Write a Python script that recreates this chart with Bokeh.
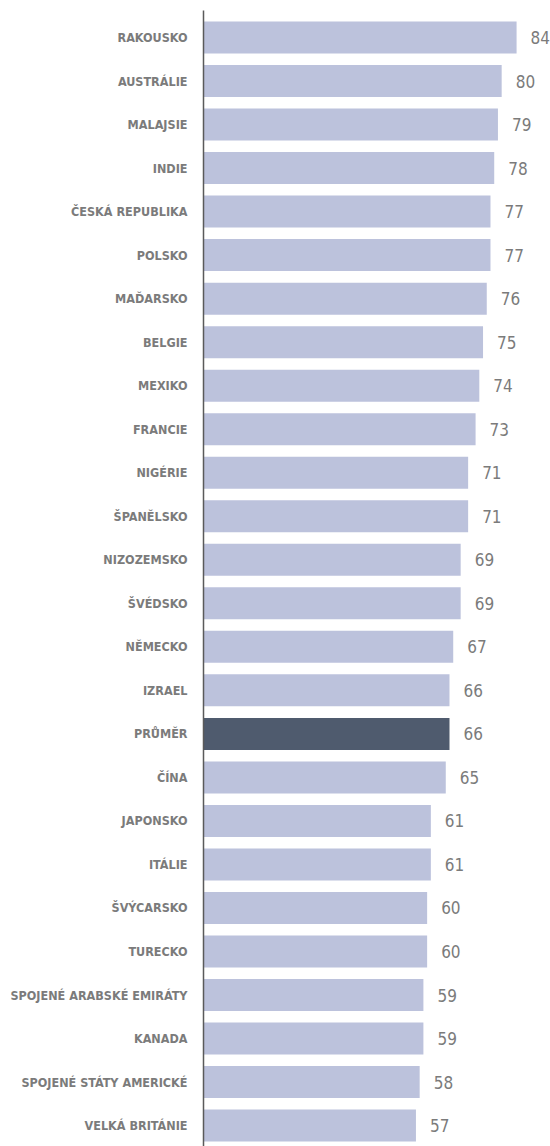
from bokeh.plotting import figure
from bokeh.models import ColumnDataSource, Range1d, FixedTicker
from bokeh.core.properties import value
from bokeh.embed import file_html
from bokeh.resources import INLINE

countries = ["RAKOUSKO", "AUSTRÁLIE", "MALAJSIE", "INDIE", "ČESKÁ REPUBLIKA", "POLSKO",
             "MAĎARSKO", "BELGIE", "MEXIKO", "FRANCIE", "NIGÉRIE", "ŠPANĚLSKO",
             "NIZOZEMSKO", "ŠVÉDSKO", "NĚMECKO", "IZRAEL", "PRŮMĚR", "ČÍNA", "JAPONSKO",
             "ITÁLIE", "ŠVÝCARSKO", "TURECKO", "SPOJENÉ ARABSKÉ EMIRÁTY", "KANADA",
             "SPOJENÉ STÁTY AMERICKÉ", "VELKÁ BRITÁNIE"]
values = [84, 80, 79, 78, 77, 77, 76, 75, 74, 73, 71, 71, 69, 69, 67, 66, 66, 65,
          61, 61, 60, 60, 59, 59, 58, 57]
highlight = "PRŮMĚR"

LIGHT = "#bcc2dc"
DARK = "#4f5b6e"
TEXT = "#7b7b7b"
FONT = "DejaVu Sans Condensed"

pos = list(range(len(countries)))
colors = [DARK if c == highlight else LIGHT for c in countries]
labels = [str(v) for v in values]

src = ColumnDataSource(dict(y=pos, v=values, c=colors, lab=labels))

p = figure(width=550, height=1146, output_backend="svg", toolbar_location=None,
           x_range=Range1d(0, 93.1), y_range=Range1d(25.48, -0.62),
           min_border_left=203, min_border_right=0, min_border_top=10, min_border_bottom=0)

p.hbar(y="y", right="v", left=0, height=0.735, color="c", source=src, line_color=None)
p.text(x="v", y="y", text="lab", source=src, x_offset=14, text_align="left",
       text_baseline="middle", text_color=TEXT, text_font_size="17px",
       text_font=value(FONT))

p.xaxis.visible = False
p.xgrid.visible = False
p.ygrid.visible = False
p.outline_line_color = None

ya = p.yaxis[0]
ya.ticker = FixedTicker(ticks=pos)
ya.major_label_overrides = {i: c for i, c in enumerate(countries)}
ya.major_tick_line_color = None
ya.minor_tick_line_color = None
ya.major_tick_out = 0
ya.major_tick_in = 0
ya.major_label_standoff = 16
ya.axis_line_color = "#5a5a5a"
ya.axis_line_width = 1.5
ya.major_label_text_font = FONT
ya.major_label_text_font_style = "bold"
ya.major_label_text_font_size = "12.5px"
ya.major_label_text_color = TEXT

open("out.html", "w").write(file_html(p, INLINE))
